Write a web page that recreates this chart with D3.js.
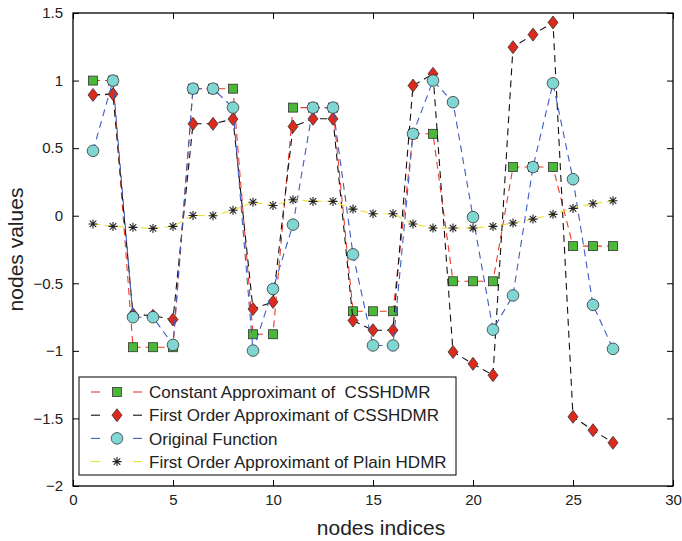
<!DOCTYPE html>
<meta charset="utf-8">
<style>
body { margin: 0; background: #fff; }
text { font-family: "Liberation Sans", Arial, sans-serif; fill: #222; }
</style>
<body>
<script src="https://cdn.jsdelivr.net/npm/d3@7"></script>
<script>

// node indices 1..27
var nodes = [1,2,3,4,5,6,7,8,9,10,11,12,13,14,15,16,17,18,19,20,21,22,23,24,25,26,27];

// constant approximant of CSSHDMR (green squares)
var constApprox = [1.0,1.0,-0.973,-0.973,-0.973,0.94,0.94,0.94,-0.877,-0.877,0.80,0.80,0.80,
  -0.707,-0.707,-0.707,0.606,0.606,-0.485,-0.485,-0.485,0.36,0.36,0.36,-0.225,-0.225,-0.225];

// first order approximant of CSSHDMR (red diamonds)
var firstApprox = [0.894,0.90,-0.73,-0.74,-0.768,0.68,0.68,0.715,-0.69,-0.638,0.66,0.717,0.717,
  -0.776,-0.847,-0.847,0.963,1.05,-1.008,-1.096,-1.18,1.247,1.34,1.43,-1.488,-1.587,-1.68];

// original function (cyan circles)
var original = [0.48,1.0,-0.751,-0.751,-0.956,0.94,0.94,0.80,-0.998,-0.542,-0.066,0.80,0.80,
  -0.286,-0.96,-0.96,0.606,1.0,0.84,-0.01,-0.843,-0.59,0.36,0.98,0.27,-0.66,-0.985];

// first order approximant of plain HDMR (stars)
var plainHdmr = [-0.061,-0.079,-0.086,-0.094,-0.079,0.002,0.0,0.04,0.10,0.076,0.118,0.106,0.106,
  0.049,0.015,0.015,-0.061,-0.091,-0.091,-0.091,-0.079,-0.054,-0.025,0.01,0.054,0.089,0.111];

var xTicks = [0,5,10,15,20,25,30];
var yTicks = [-2,-1.5,-1,-0.5,0,0.5,1,1.5];

var seriesNames = ["Constant Approximant of  CSSHDMR", "First Order Approximant of CSSHDMR",
  "Original Function", "First Order Approximant of Plain HDMR"];

var margin = {top: 13, right: 9, bottom: 55, left: 73},
    width = 682 - margin.left - margin.right,
    height = 541 - margin.top - margin.bottom;

var svg = d3.select("body").append("svg")
    .attr("width", 682)
    .attr("height", 541)
  .append("g")
    .attr("transform", "translate(" + margin.left + "," + margin.top + ")");

var x = d3.scaleLinear().domain([0, 30]).range([0, width]);
var y = d3.scaleLinear().domain([-2, 1.5]).range([height, 0]);

function fmt(v) { return (v < 0 ? "\u2212" : "") + Math.abs(v); }

// axes box with inward ticks on all four sides
svg.append("rect")
    .attr("width", width).attr("height", height)
    .attr("fill", "none").attr("stroke", "#000").attr("stroke-width", 1.3);

svg.append("g")
    .attr("transform", "translate(0," + height + ")")
    .call(d3.axisBottom(x).tickValues(xTicks).tickSize(-6).tickPadding(8).tickFormat(fmt))
    .call(function(g) { g.select(".domain").remove(); });
svg.append("g")
    .call(d3.axisTop(x).tickValues(xTicks).tickSize(-6).tickFormat(""))
    .call(function(g) { g.select(".domain").remove(); });
svg.append("g")
    .call(d3.axisLeft(y).tickValues(yTicks).tickSize(-6).tickPadding(10).tickFormat(fmt))
    .call(function(g) { g.select(".domain").remove(); });
svg.append("g")
    .attr("transform", "translate(" + width + ",0)")
    .call(d3.axisRight(y).tickValues(yTicks).tickSize(-6).tickFormat(""))
    .call(function(g) { g.select(".domain").remove(); });

svg.selectAll(".tick text")
    .style("font-size", "15px")
    .style("font-family", "Liberation Sans, Arial, sans-serif")
    .attr("fill", "#222");

// axis titles
svg.append("text")
    .attr("x", width / 2 + 8).attr("y", height + 49)
    .attr("text-anchor", "middle")
    .style("font-size", "21px")
    .text("nodes indices");

svg.append("text")
    .attr("transform", "translate(" + (-50) + "," + (height / 2) + ") rotate(-90)")
    .attr("text-anchor", "middle")
    .style("font-size", "21px")
    .text("nodes values");

// marker drawing helpers
function drawMarker(g, type, cx, cy) {
  if (type == "square") {
    g.append("rect").attr("x", cx - 4.5).attr("y", cy - 4.5).attr("width", 9).attr("height", 9)
      .attr("fill", "#4cb83a").attr("stroke", "#333").attr("stroke-width", 0.8);
  } else if (type == "diamond") {
    g.append("path").attr("d", "M" + cx + "," + (cy - 6.5) + "L" + (cx + 5) + "," + cy + "L" + cx + "," + (cy + 6.5) + "L" + (cx - 5) + "," + cy + "Z")
      .attr("fill", "#dd2a1c").attr("stroke", "#333").attr("stroke-width", 0.8);
  } else if (type == "circle") {
    g.append("circle").attr("cx", cx).attr("cy", cy).attr("r", 5.8)
      .attr("fill", "#7fd6d2").attr("stroke", "#333").attr("stroke-width", 0.8);
  } else {
    var r = 4.5, d = r * 0.72;
    g.append("path")
      .attr("d", "M" + (cx - r) + "," + cy + "L" + (cx + r) + "," + cy +
                 "M" + cx + "," + (cy - r) + "L" + cx + "," + (cy + r) +
                 "M" + (cx - d) + "," + (cy - d) + "L" + (cx + d) + "," + (cy + d) +
                 "M" + (cx - d) + "," + (cy + d) + "L" + (cx + d) + "," + (cy - d))
      .attr("stroke", "#222").attr("stroke-width", 1.1).attr("fill", "none");
  }
}

var series = [
  {name: seriesNames[0], values: constApprox, color: "#ee3a2a", marker: "square"},
  {name: seriesNames[1], values: firstApprox, color: "#111111", marker: "diamond"},
  {name: seriesNames[2], values: original, color: "#3d5cc4", marker: "circle"},
  {name: seriesNames[3], values: plainHdmr, color: "#ece02a", marker: "star"}
];

var line = d3.line()
    .x(function(d) { return x(d[0]); })
    .y(function(d) { return y(d[1]); });

series.forEach(function(s) {
  var pts = nodes.map(function(n, i) { return [n, s.values[i]]; });
  var g = svg.append("g");
  g.append("path")
    .attr("d", line(pts))
    .attr("fill", "none")
    .attr("stroke", s.color)
    .attr("stroke-width", 1.1)
    .attr("stroke-dasharray", "7,5");
  pts.forEach(function(p) { drawMarker(g, s.marker, x(p[0]), y(p[1])); });
});

// legend
var lg = svg.append("g").attr("transform", "translate(6,364)");
lg.append("rect").attr("width", 377).attr("height", 98)
  .attr("fill", "#fff").attr("stroke", "#000").attr("stroke-width", 1);

series.forEach(function(s, i) {
  var ly = 15 + i * 23.2;
  var row = lg.append("g");
  row.append("line").attr("x1", 12).attr("x2", 21).attr("y1", ly).attr("y2", ly)
    .attr("stroke", s.color).attr("stroke-width", 1.1);
  row.append("line").attr("x1", 54).attr("x2", 63).attr("y1", ly).attr("y2", ly)
    .attr("stroke", s.color).attr("stroke-width", 1.1);
  drawMarker(row.append("g"), s.marker, 38, ly);
  row.append("text").attr("x", 70).attr("y", ly).attr("dy", "0.36em")
    .style("font-size", "17px").style("white-space", "pre")
    .text(s.name);
});

</script>
</body>
